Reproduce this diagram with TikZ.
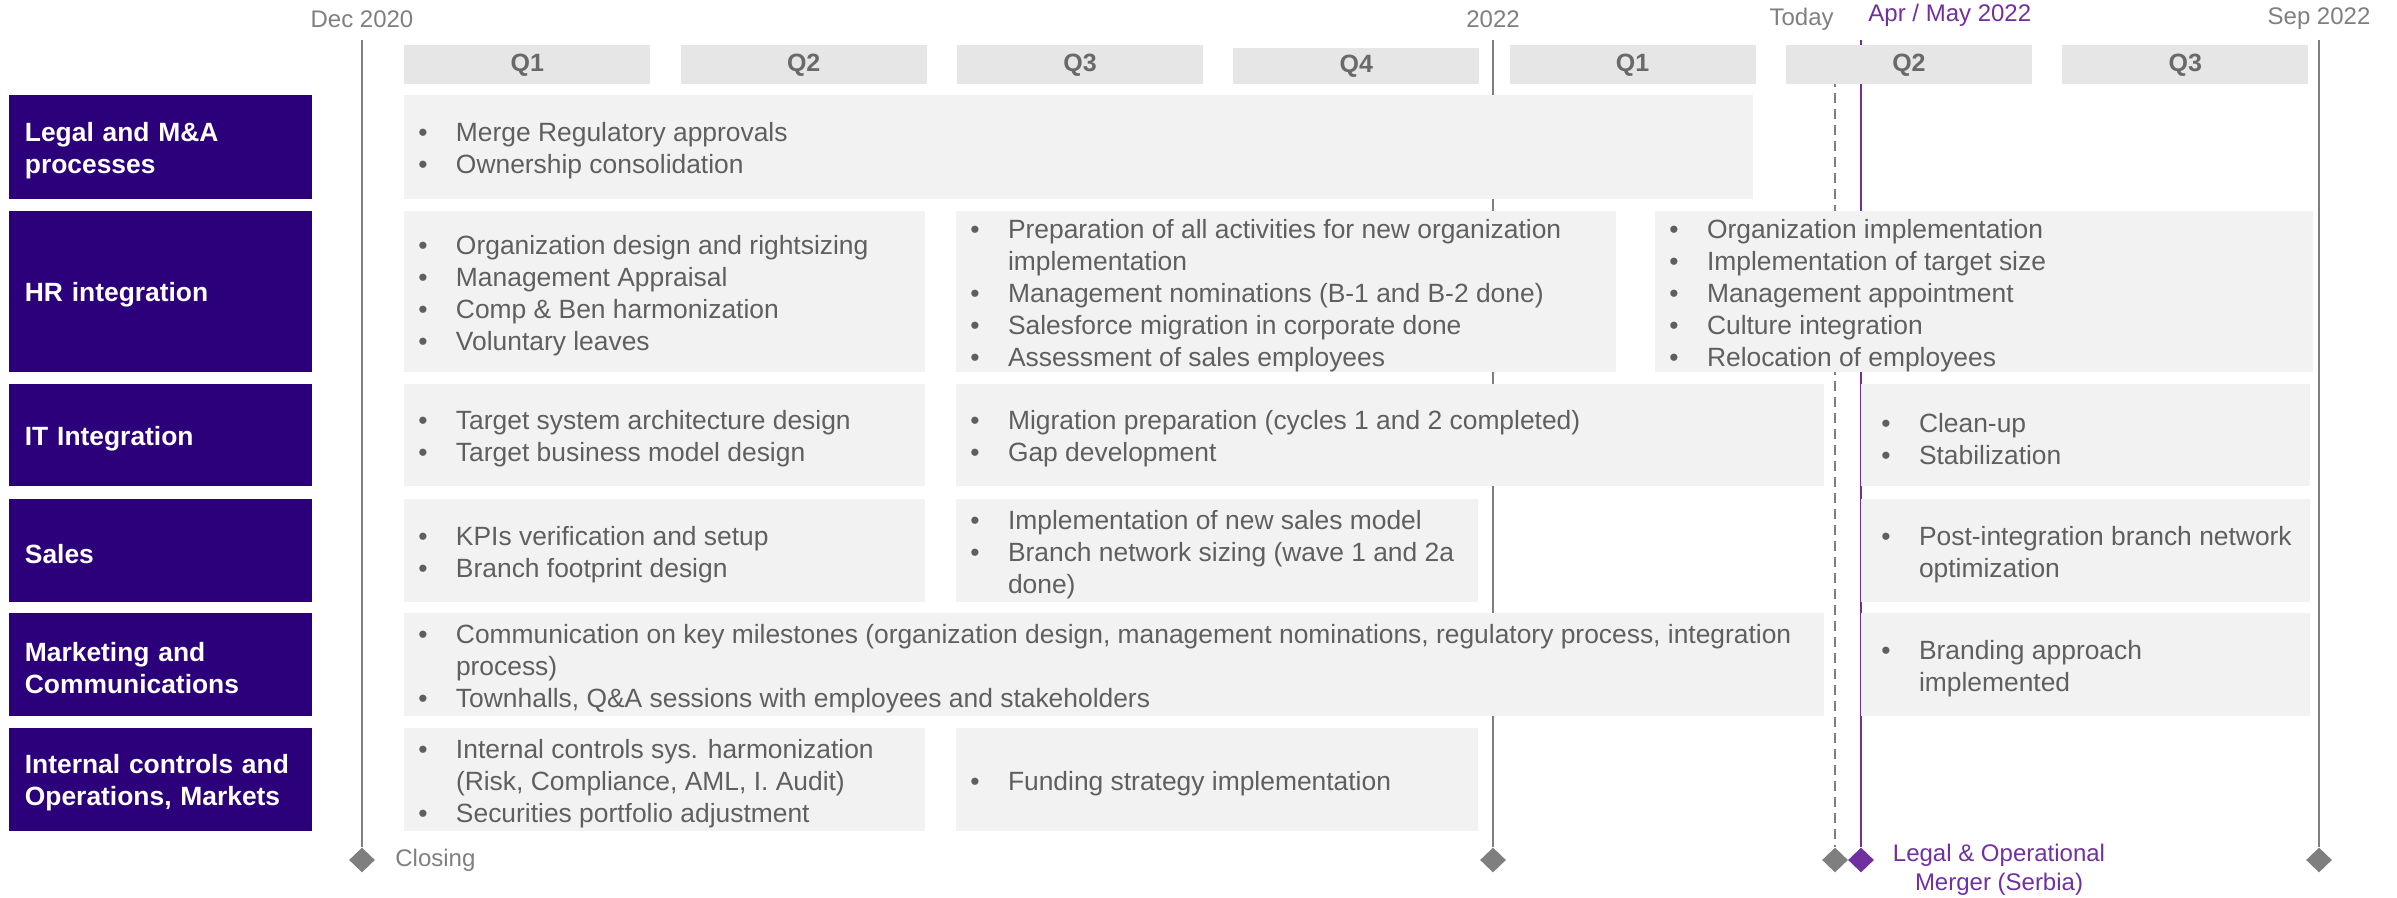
\documentclass[tikz,border=0pt]{standalone}
\usepackage{fontspec}
\setmainfont{Liberation Sans}
\usetikzlibrary{shapes.geometric,positioning}

\definecolor{lblpurple}{RGB}{43,0,122}
\definecolor{boxgray}{RGB}{242,242,242}
\definecolor{qgray}{RGB}{230,230,230}
\definecolor{qtext}{RGB}{105,105,105}
\definecolor{txtgray}{RGB}{95,95,95}
\definecolor{linegray}{RGB}{127,127,127}
\definecolor{mergepurple}{RGB}{112,48,160}

\newcommand{\bullit}{\makebox[18.8pt][l]{\textbullet}}
\newcommand{\contd}{\hspace*{18.8pt}}

\begin{document}
\begin{tikzpicture}[x=0.5pt,y=-0.5pt,
	lbl/.style={fill=lblpurple, anchor=north west, inner xsep=7.75pt, inner ysep=0pt,
		minimum width=151.5pt, minimum height={#1*0.5pt}, text width=136pt, align=left,
		text=white, font=\fontsize{13.2pt}{16pt}\selectfont\bfseries,
		execute at begin node={\rule{0pt}{12.5pt}}},
	cbox/.style 2 args={fill=boxgray, anchor=north west, inner sep=0pt,
		minimum width={#1*0.5pt}, minimum height={#2*0.5pt}},
	ctext/.style={anchor=west, inner sep=0pt, align=left, text=txtgray, yshift=-1.8pt,
		font=\fontsize{13.2pt}{16pt}\selectfont},
	qbox/.style={fill=qgray, anchor=north west, inner sep=0pt, minimum width=123pt,
		text=qtext, font=\fontsize{12.5pt}{15pt}\selectfont\bfseries},
	datelbl/.style={text=linegray, inner sep=0pt, font=\fontsize{12pt}{14.5pt}\selectfont},
	mline/.style={draw=linegray, line width=1pt},
	ms/.style={diamond, fill=linegray, inner sep=0pt, minimum width=13pt, minimum height=12.5pt}]

	\useasboundingbox (0,0) rectangle (2397,898);

	% milestones
	\coordinate (dec-top) at (362,40);
	\coordinate (y22-top) at (1493,40);
	\coordinate (today-top) at (1835,45);
	\coordinate (merge-top) at (1861,40);
	\coordinate (sep-top) at (2319,40);
	\node[ms] (dec-ms) at (362,860) {};
	\node[ms] (y22-ms) at (1493,860) {};
	\node[ms] (today-ms) at (1835,860) {};
	\node[ms, fill=mergepurple] (merge-ms) at (1861,860) {};
	\node[ms] (sep-ms) at (2319,860) {};
	\draw[mline] (dec-top) -- (dec-ms);
	\draw[mline] (y22-top) -- (y22-ms);
	\draw[mline, dash pattern=on 5pt off 3pt] (today-top) -- (today-ms);
	\draw[draw=mergepurple, line width=0.9pt] (merge-top) -- (merge-ms);
	\draw[mline] (sep-top) -- (sep-ms);

	% quarters
	\foreach \q/\t [count=\i] in {Q1/45,Q2/45,Q3/45,Q4/48,Q1/45,Q2/45,Q3/45}
		\node[qbox, minimum height={(84-\t)*0.5pt}] (q\i) at ({404+276.3*(\i-1)},\t) {\q};

	% row labels
	\node[lbl=104] (legal) at (9,95) {Legal and M\&A\\processes};
	\node[lbl=161] (hr) at (9,211) {HR integration};
	\node[lbl=102] (it) at (9,384) {IT Integration};
	\node[lbl=103] (sales) at (9,499) {Sales};
	\node[lbl=103] (mkt) at (9,613) {Marketing and\\Communications};
	\node[lbl=103] (int) at (9,728) {Internal controls and\\Operations, Markets};

	% activity boxes
	\node[cbox={1349}{104}] (legal1) at (404,95) {};
	\node[ctext, right=7pt of legal1.west] (legal1txt)
		{\bullit Merge Regulatory approvals\\\bullit Ownership consolidation};

	\node[cbox={521}{161}] (hr1) at (404,211) {};
	\node[ctext, right=7pt of hr1.west] (hr1txt)
		{\bullit Organization design and rightsizing\\\bullit Management Appraisal\\
		 \bullit Comp \& Ben harmonization\\\bullit Voluntary leaves};
	\node[cbox={660}{161}] (hr2) at (956,211) {};
	\node[ctext, right=7pt of hr2.west] (hr2txt)
		{\bullit Preparation of all activities for new organization\\\contd implementation\\
		 \bullit Management nominations (B-1 and B-2 done)\\
		 \bullit Salesforce migration in corporate done\\\bullit Assessment of sales employees};
	\node[cbox={658}{161}] (hr3) at (1655,211) {};
	\node[ctext, right=7pt of hr3.west] (hr3txt)
		{\bullit Organization implementation\\\bullit Implementation of target size\\
		 \bullit Management appointment\\\bullit Culture integration\\
		 \bullit Relocation of employees};

	\node[cbox={521}{102}] (it1) at (404,384) {};
	\node[ctext, right=7pt of it1.west] (it1txt)
		{\bullit Target system architecture design\\\bullit Target business model design};
	\node[cbox={868}{102}] (it2) at (956,384) {};
	\node[ctext, right=7pt of it2.west] (it2txt)
		{\bullit Migration preparation (cycles 1 and 2 completed)\\\bullit Gap development};
	\node[cbox={449}{102}] (it3) at (1861,384) {};
	\node[ctext, right=10pt of it3.west] (it3txt)
		{\bullit Clean-up\\\bullit Stabilization};

	\node[cbox={521}{103}] (sal1) at (404,499) {};
	\node[ctext, right=7pt of sal1.west] (sal1txt)
		{\bullit KPIs verification and setup\\\bullit Branch footprint design};
	\node[cbox={522}{103}] (sal2) at (956,499) {};
	\node[ctext, right=7pt of sal2.west] (sal2txt)
		{\bullit Implementation of new sales model\\
		 \bullit Branch network sizing (wave 1 and 2a\\\contd done)};
	\node[cbox={449}{103}] (sal3) at (1861,499) {};
	\node[ctext, right=10pt of sal3.west] (sal3txt)
		{\bullit Post-integration branch network\\\contd optimization};

	\node[cbox={1420}{103}] (mkt1) at (404,613) {};
	\node[ctext, right=7pt of mkt1.west] (mkt1txt)
		{\bullit Communication on key milestones (organization design, management nominations, regulatory process, integration\\
		 \contd process)\\\bullit Townhalls, Q\&A sessions with employees and stakeholders};
	\node[cbox={449}{103}] (mkt3) at (1861,613) {};
	\node[ctext, right=10pt of mkt3.west] (mkt3txt)
		{\bullit Branding approach\\\contd implemented};

	\node[cbox={521}{103}] (int1) at (404,728) {};
	\node[ctext, right=7pt of int1.west] (int1txt)
		{\bullit Internal controls sys. harmonization\\\contd (Risk, Compliance, AML, I. Audit)\\
		 \bullit Securities portfolio adjustment};
	\node[cbox={522}{103}] (int2) at (956,728) {};
	\node[ctext, right=7pt of int2.west] (int2txt)
		{\bullit Funding strategy implementation};

	% dates
	\node[datelbl] (dec-lbl) at (362,19) {Dec 2020};
	\node[datelbl] (y22-lbl) at (1493,19) {2022};
	\node[datelbl, anchor=east] (today-lbl) at (1834,19) {Today};
	\node[datelbl, anchor=west, text=mergepurple] (merge-lbl) at (1868,15) {Apr / May 2022};
	\node[datelbl] (sep-lbl) at (2319,19) {Sep 2022};
	\node[datelbl, anchor=west] (closing) at (395,860) {Closing};
	\node[datelbl, align=center, text=mergepurple] (merger) at (1999,870)
		{Legal \& Operational\\Merger (Serbia)};

\end{tikzpicture}
\end{document}
